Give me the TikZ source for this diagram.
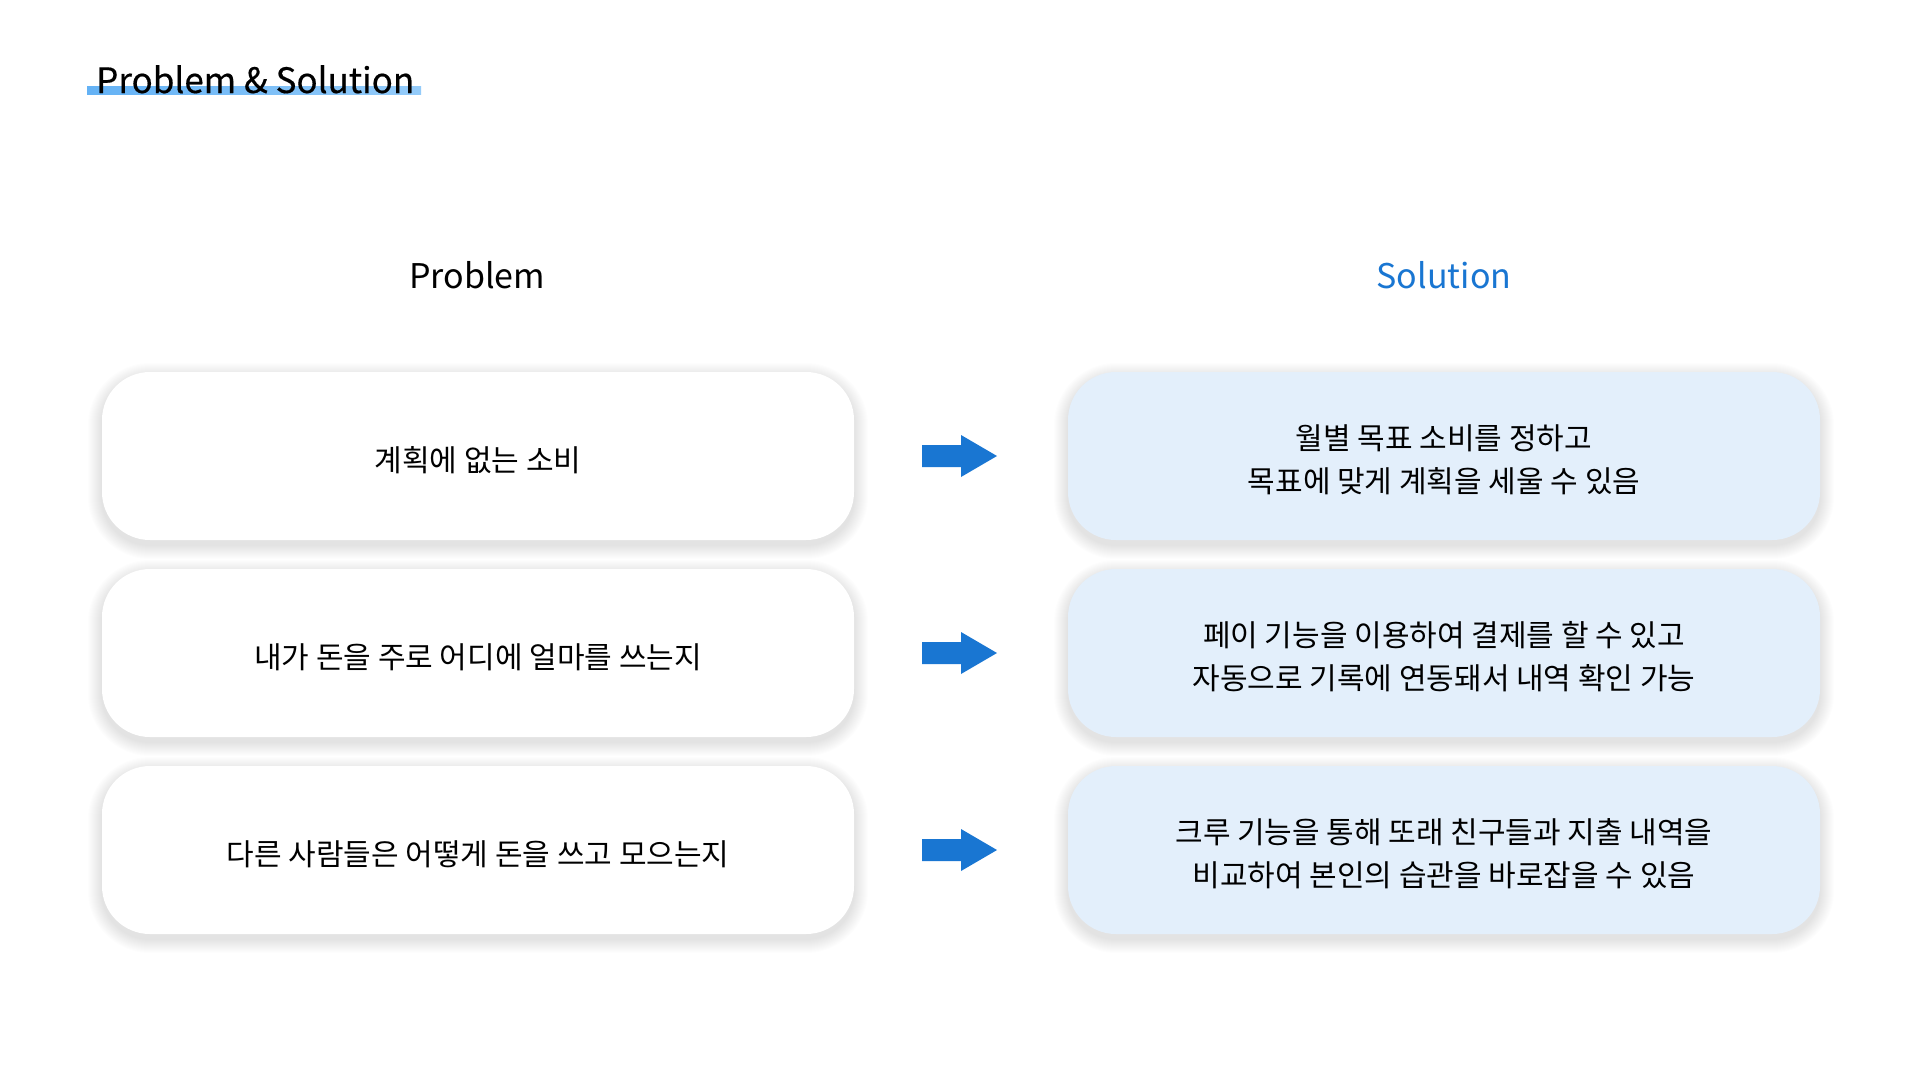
\documentclass[tikz,border=0pt]{standalone}
\usepackage{fontspec}
\setmainfont{Noto Sans CJK KR}
\usetikzlibrary{calc}
\definecolor{solblue}{HTML}{1976D2}
\definecolor{solfill}{HTML}{E3EFFB}
\definecolor{ulA}{HTML}{64B2F5}
\definecolor{ulB}{HTML}{94CBF9}
\newcommand\cardshadow[2]{%
  \foreach \k in {1,...,14}{%
    \fill[black, opacity=0.009, rounded corners={48pt+\k pt}]
      ({#1-376-\k},{#2-84-\k+5}) rectangle ({#1+376+\k},{#2+84+\k+5});
  }%
}
\tikzset{
  card/.style={rounded corners=48pt, minimum width=752pt, minimum height=168pt, inner sep=0pt},
  cardtext/.style={align=center, font=\fontsize{30}{43}\selectfont, text=black, inner sep=0pt},
  probcard/.style={card, fill=white},
  solcard/.style={card, fill=solfill},
  header/.style={font=\fontsize{34}{40}\selectfont, inner sep=0pt},
  titletext/.style={font=\fontsize{35}{40}\selectfont\addfontfeature{FakeBold=0.4}, inner sep=0pt},
  bigarrow/.style={fill=solblue, draw=none}
}
\begin{document}
\begin{tikzpicture}[x=1pt,y=-1pt]
\useasboundingbox[fill=white] (0,0) rectangle (1920,1080);
% title
\shade[left color=ulA, right color=ulB] (87,86) rectangle (421,94);
\node[titletext, anchor=base west] (title) at (96,93) {Problem \& Solution};
% headers
\node[header, anchor=base] (ph) at (477,288) {Problem};
\node[header, anchor=base, text=solblue] (sh) at (1444,288) {Solution};
% shadows
\foreach \yy in {456,653,850}{
  \cardshadow{478}{\yy}
  \cardshadow{1444}{\yy}
}
% cards
\node[probcard] (p1) at (478,456) {};
\node[probcard] (p2) at (478,653) {};
\node[probcard] (p3) at (478,850) {};
\node[solcard] (s1) at (1444,456) {};
\node[solcard] (s2) at (1444,653) {};
\node[solcard] (s3) at (1444,850) {};
% texts
\node[cardtext] (p1t) at ([yshift=-4pt]p1.center) {계획에 없는 소비};
\node[cardtext] (p2t) at ([yshift=-4pt]p2.center) {내가 돈을 주로 어디에 얼마를 쓰는지};
\node[cardtext] (p3t) at ([yshift=-4pt]p3.center) {다른 사람들은 어떻게 돈을 쓰고 모으는지};
\node[cardtext] (s1t) at ([yshift=-4pt]s1.center) {월별 목표 소비를 정하고\\목표에 맞게 계획을 세울 수 있음};
\node[cardtext] (s2t) at ([yshift=-4pt]s2.center) {페이 기능을 이용하여 결제를 할 수 있고\\자동으로 기록에 연동돼서 내역 확인 가능};
\node[cardtext] (s3t) at ([yshift=-4pt]s3.center) {크루 기능을 통해 또래 친구들과 지출 내역을\\비교하여 본인의 습관을 바로잡을 수 있음};
% arrows
\foreach \i in {1,2,3}{
  \coordinate (a\i) at ([xshift=3pt]$(p\i.east)!0.5!(s\i.west)$);
  \fill[bigarrow] ([shift={(-42,-11)}]a\i) -- ([shift={(-3,-11)}]a\i) -- ([shift={(-3,-21)}]a\i)
     -- ([shift={(33,0)}]a\i) -- ([shift={(-3,21)}]a\i) -- ([shift={(-3,11)}]a\i)
     -- ([shift={(-42,11)}]a\i) -- cycle;
}
\end{tikzpicture}
\end{document}
